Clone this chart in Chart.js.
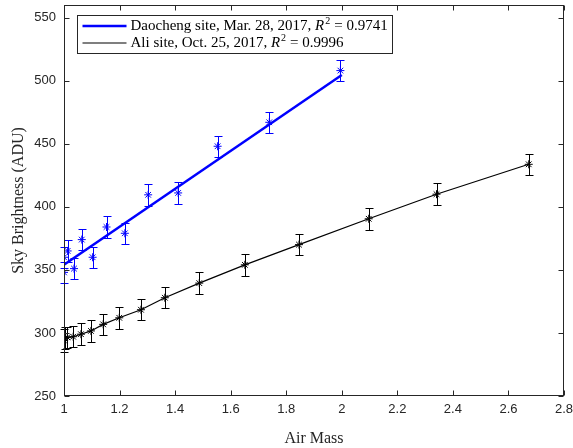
<!DOCTYPE html>
<html>
<head>
<meta charset="utf-8">
<script src="https://cdn.jsdelivr.net/npm/chart.js@4.4.1/dist/chart.umd.min.js"></script>
<style>
  html, body { margin: 0; padding: 0; background: #fff; }
</style>
</head>
<body>
<canvas id="skyChart" width="573" height="448"></canvas>
<script>
// Daocheng site, Mar. 28, 2017
const daoAirMass = [1.0, 1.0, 1.013, 1.036, 1.064, 1.103, 1.153, 1.219, 1.303, 1.411, 1.553, 1.739, 1.995];
const daoBright  = [348, 360, 365, 351, 374, 360, 384, 379, 409.5, 411, 448, 467, 508];
const daoError   = [8.5, 8.5, 8.5, 8.5, 8.5, 8.5, 8.5, 8.5, 8.5, 8.5, 8.5, 8.5, 8.5];
const daoFitX    = [1.0, 2.0];
const daoFitY    = [354, 504.5];

// Ali site, Oct. 25, 2017
const aliAirMass = [1.0, 1.004, 1.012, 1.033, 1.061, 1.097, 1.141, 1.199, 1.277, 1.363, 1.487, 1.651, 1.846, 2.097, 2.341, 2.673];
const aliBright  = [294, 296, 296.5, 297, 299, 301.6, 306.8, 312, 318.4, 327.9, 339.5, 354, 370, 390.5, 410, 433.7];
const aliError   = [9, 9, 8.5, 8.5, 8.5, 8.5, 8.5, 8.5, 8.5, 8.5, 8.5, 8.5, 8.5, 8.5, 8.5, 8.5];

const xTicks = [1, 1.2, 1.4, 1.6, 1.8, 2, 2.2, 2.4, 2.6, 2.8];
const yTicks = [250, 300, 350, 400, 450, 500, 550];

const legendLabels = [
  { pre: "Daocheng site, Mar. 28, 2017, ", r2: "0.9741", color: "#0000ff", width: 2.5 },
  { pre: "Ali site, Oct. 25, 2017, ", r2: "0.9996", color: "#000000", width: 1.2 }
];

const axisColor = "#262626";
const serif = "'Liberation Serif', 'DejaVu Serif', serif";
const sans = "'Liberation Sans', Arial, sans-serif";

function toPoints(xs, ys) {
  return xs.map((x, i) => ({ x: x, y: ys[i] }));
}

// vertical error bars with caps, drawn through the chart scales
const errorBarPlugin = {
  id: "errorBars",
  beforeDatasetsDraw(chart) {
    const ctx = chart.ctx;
    const xs = chart.scales.x, ys = chart.scales.y;
    const sets = [
      { x: aliAirMass, y: aliBright, e: aliError, color: "#000000" },
      { x: daoAirMass, y: daoBright, e: daoError, color: "#0000ff" }
    ];
    ctx.save();
    ctx.lineWidth = 1;
    sets.forEach(s => {
      ctx.strokeStyle = s.color;
      s.x.forEach((xv, i) => {
        const px = Math.round(xs.getPixelForValue(xv)) + 0.5;
        const top = Math.round(ys.getPixelForValue(s.y[i] + s.e[i])) + 0.5;
        const bot = Math.round(ys.getPixelForValue(s.y[i] - s.e[i])) + 0.5;
        ctx.beginPath();
        ctx.moveTo(px, top); ctx.lineTo(px, bot);
        ctx.moveTo(px - 4, top); ctx.lineTo(px + 4, top);
        ctx.moveTo(px - 4, bot); ctx.lineTo(px + 4, bot);
        ctx.stroke();
      });
    });
    ctx.restore();
  }
};

// MATLAB style box with inward ticks
const boxPlugin = {
  id: "box",
  afterDraw(chart) {
    const ctx = chart.ctx;
    const a = chart.chartArea;
    const xs = chart.scales.x, ys = chart.scales.y;
    ctx.save();
    ctx.strokeStyle = axisColor;
    ctx.lineWidth = 1;
    const l = Math.round(a.left) + 0.5, r = Math.round(a.right) - 0.5;
    const t = Math.round(a.top) + 0.5, b = Math.round(a.bottom) - 0.5;
    ctx.strokeRect(l, t, r - l, b - t);
    ctx.beginPath();
    xs.ticks.forEach(tk => {
      const px = Math.round(xs.getPixelForValue(tk.value)) + 0.5;
      ctx.moveTo(px, b); ctx.lineTo(px, b - 5);
      ctx.moveTo(px, t); ctx.lineTo(px, t + 5);
    });
    ys.ticks.forEach(tk => {
      const py = Math.round(ys.getPixelForValue(tk.value)) + 0.5;
      ctx.moveTo(l, py); ctx.lineTo(l + 5, py);
      ctx.moveTo(r, py); ctx.lineTo(r - 5, py);
    });
    ctx.stroke();
    ctx.restore();
  }
};

// legend box with italic R and superscript 2
const legendPlugin = {
  id: "mathLegend",
  afterDraw(chart) {
    const ctx = chart.ctx;
    const bx = 77.5, by = 15.5, bw = 315, bh = 38;
    ctx.save();
    ctx.fillStyle = "#fff";
    ctx.fillRect(bx, by, bw, bh);
    ctx.strokeStyle = axisColor;
    ctx.lineWidth = 1;
    ctx.strokeRect(bx, by, bw, bh);
    ctx.textBaseline = "middle";
    legendLabels.forEach((item, i) => {
      const y = by + 10.5 + i * 17;
      ctx.strokeStyle = item.color;
      ctx.lineWidth = item.width;
      ctx.beginPath();
      ctx.moveTo(bx + 5, y); ctx.lineTo(bx + 49, y);
      ctx.stroke();
      let x = bx + 53;
      ctx.fillStyle = "#000";
      ctx.font = "15px " + serif;
      ctx.fillText(item.pre, x, y);
      x += ctx.measureText(item.pre).width;
      ctx.font = "italic 15px " + serif;
      ctx.fillText("R", x, y);
      x += ctx.measureText("R").width + 1;
      ctx.font = "10px " + serif;
      ctx.fillText("2", x, y - 5);
      x += ctx.measureText("2").width + 4;
      ctx.font = "15px " + serif;
      ctx.fillText("= " + item.r2, x, y);
    });
    ctx.restore();
  }
};

new Chart(document.getElementById("skyChart"), {
  type: "scatter",
  data: {
    datasets: [
      {
        label: "Ali points",
        data: toPoints(aliAirMass, aliBright),
        pointStyle: "star",
        pointRadius: 4,
        borderColor: "#000000",
        backgroundColor: "#000000",
        borderWidth: 1
      },
      {
        label: "Ali site",
        type: "line",
        data: toPoints(aliAirMass, aliBright),
        borderColor: "#000000",
        borderWidth: 1.2,
        pointRadius: 0,
        fill: false
      },
      {
        label: "Daocheng points",
        data: toPoints(daoAirMass, daoBright),
        pointStyle: "star",
        pointRadius: 4,
        borderColor: "#0000ff",
        backgroundColor: "#0000ff",
        borderWidth: 1
      },
      {
        label: "Daocheng site",
        type: "line",
        data: toPoints(daoFitX, daoFitY),
        borderColor: "#0000ff",
        borderWidth: 2.5,
        pointRadius: 0,
        fill: false
      }
    ]
  },
  options: {
    responsive: false,
    animation: false,
    devicePixelRatio: 1,
    layout: { padding: { top: 4, right: 9, left: 0, bottom: 0 } },
    plugins: {
      legend: { display: false },
      tooltip: { enabled: false }
    },
    scales: {
      x: {
        type: "linear",
        min: 1,
        max: 2.8,
        grid: { display: false, drawTicks: false },
        border: { display: false },
        afterBuildTicks: s => { s.ticks = xTicks.map(v => ({ value: v })); },
        ticks: {
          autoSkip: false,
          maxRotation: 0,
          padding: 6,
          color: axisColor,
          font: { family: sans, size: 13 },
          callback: v => Math.round(v * 10) / 10
        },
        title: {
          display: true,
          text: "Air Mass",
          color: axisColor,
          font: { family: serif, size: 16 },
          padding: { top: 0, bottom: 0 }
        },
        afterFit: s => { s.height = 52; s.paddingLeft = 0; s.paddingRight = 0; }
      },
      y: {
        type: "linear",
        min: 250,
        max: 560,
        grid: { display: false, drawTicks: false },
        border: { display: false },
        afterBuildTicks: s => { s.ticks = yTicks.map(v => ({ value: v })); },
        ticks: {
          padding: 8,
          color: axisColor,
          font: { family: sans, size: 13 }
        },
        title: {
          display: true,
          text: "Sky Brightness (ADU)",
          color: axisColor,
          font: { family: serif, size: 16 },
          padding: { top: 9, bottom: 0 }
        },
        afterFit: s => { s.width = 64; s.paddingTop = 0; s.paddingBottom = 0; }
      }
    }
  },
  plugins: [errorBarPlugin, boxPlugin, legendPlugin]
});
</script>
</body>
</html>
